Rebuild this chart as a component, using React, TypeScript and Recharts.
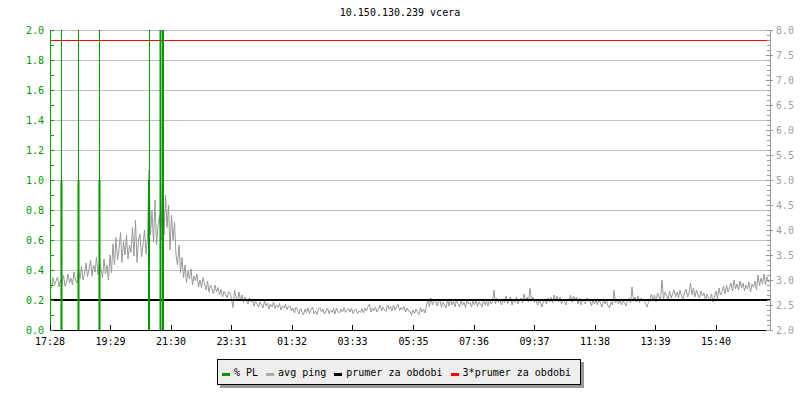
import { ComposedChart, Line, XAxis, YAxis, CartesianGrid, ReferenceLine, Legend } from 'recharts';

const FONT = '"DejaVu Sans Mono", monospace';
const GREEN = '#009900';
const GRAY = '#999999';
const GRID = '#c0c0c0';

const TITLE = '10.150.130.239 vcera';

// avg ping in ms, one sample per STEP minutes starting 17:28
const STEP = 3;
const PING = [
  2.95, 2.84, 3.05, 2.9, 2.98, 3.06, 2.86, 3.0, 2.92, 3.1, 2.88, 2.96, 3.12, 2.94, 3.04, 2.9, 3.16, 3.0, 2.94, 3.2,
  3.02, 3.28, 3.0, 3.12, 3.34, 3.06, 3.22, 3.4, 3.08, 3.3, 3.16, 3.46, 3.1, 3.36, 3.22, 3.05, 3.42, 3.12, 3.3, 3.0,
  3.5, 3.15, 3.72, 3.3, 3.85, 3.4, 3.6, 3.95, 3.35, 3.78, 3.5, 3.9, 3.42, 3.7, 3.55, 4.05, 3.48, 4.2, 3.35, 3.8,
  3.92, 3.46, 3.7, 4.0, 3.52, 3.85, 5.2, 3.9, 4.4, 3.75, 4.6, 3.7, 4.1, 4.3, 3.8, 4.95, 3.9, 4.7, 4.05, 4.5,
  3.6, 4.3, 3.8, 4.15, 3.5, 3.3, 3.7, 3.15, 3.45, 3.05, 3.3, 2.95, 3.18, 3.02, 3.22, 2.9, 3.08, 2.98, 3.12, 2.86,
  3.0, 2.84, 3.05, 2.92, 2.8, 2.98, 2.76, 2.9, 2.82, 2.72, 2.9, 2.76, 2.85, 2.7, 2.82, 2.66, 2.78, 2.72, 2.64, 2.76,
  2.75, 2.62, 2.45, 2.8, 2.66, 2.58, 2.76, 2.6, 2.7, 2.55, 2.66, 2.58, 2.52, 2.64, 2.56, 2.6, 2.48, 2.58, 2.52, 2.46,
  2.56, 2.5, 2.44, 2.58, 2.48, 2.54, 2.42, 2.52, 2.46, 2.56, 2.43, 2.5, 2.45, 2.53, 2.4, 2.48, 2.44, 2.52, 2.41, 2.47,
  2.48, 2.38, 2.44, 2.34, 2.46, 2.4, 2.32, 2.44, 2.36, 2.3, 2.42, 2.35, 2.44, 2.33, 2.4, 2.46, 2.32, 2.38, 2.31, 2.42,
  2.45, 2.36, 2.42, 2.32, 2.38, 2.44, 2.33, 2.4, 2.35, 2.43, 2.32, 2.44, 2.37, 2.34, 2.42, 2.36, 2.45, 2.35, 2.4, 2.43,
  2.36, 2.44, 2.33, 2.4, 2.42, 2.32, 2.38, 2.35, 2.43, 2.34, 2.44, 2.38, 2.47, 2.52, 2.36, 2.44, 2.38, 2.46, 2.36, 2.42,
  2.5, 2.38, 2.46, 2.4, 2.37, 2.5, 2.42, 2.47, 2.38, 2.5, 2.4, 2.48, 2.52, 2.39, 2.45, 2.4, 2.47, 2.36, 2.44, 2.38,
  2.38, 2.3, 2.4, 2.33, 2.42, 2.35, 2.31, 2.44, 2.36, 2.42, 2.34, 2.5, 2.6, 2.46, 2.64, 2.5, 2.58, 2.62, 2.48, 2.56,
  2.6, 2.45, 2.56, 2.5, 2.44, 2.6, 2.48, 2.62, 2.5, 2.58, 2.46, 2.6, 2.52, 2.46, 2.58, 2.5, 2.56, 2.45, 2.6, 2.52,
  2.55, 2.46, 2.58, 2.5, 2.6, 2.47, 2.56, 2.52, 2.46, 2.6, 2.5, 2.58, 2.48, 2.62, 2.52, 2.56, 2.8, 2.52, 2.64, 2.55,
  2.6, 2.5, 2.62, 2.54, 2.68, 2.52, 2.6, 2.66, 2.5, 2.62, 2.55, 2.66, 2.52, 2.6, 2.64, 2.54, 2.72, 2.58, 2.66, 2.56,
  2.84, 2.58, 2.66, 2.55, 2.62, 2.5, 2.6, 2.54, 2.46, 2.58, 2.6, 2.52, 2.64, 2.56, 2.66, 2.54, 2.7, 2.58, 2.68, 2.56,
  2.66, 2.52, 2.62, 2.56, 2.5, 2.62, 2.58, 2.7, 2.55, 2.68, 2.6, 2.66, 2.52, 2.64, 2.5, 2.62, 2.56, 2.52, 2.64, 2.58,
  2.58, 2.48, 2.62, 2.52, 2.6, 2.5, 2.62, 2.54, 2.46, 2.6, 2.52, 2.58, 2.48, 2.44, 2.56, 2.5, 2.8, 2.54, 2.62, 2.52,
  2.6, 2.5, 2.58, 2.54, 2.48, 2.6, 2.64, 2.54, 2.86, 2.58, 2.66, 2.56, 2.68, 2.55, 2.64, 2.58, 2.62, 2.52, 2.46, 2.56,
  2.6, 2.72, 2.58, 2.7, 2.56, 2.74, 2.66, 2.6, 3.0, 2.62, 2.76, 2.7, 2.6, 2.78, 2.64, 2.72, 2.8, 2.66, 2.76, 2.64,
  2.8, 2.68, 2.62, 2.76, 2.82, 2.66, 2.74, 2.94, 2.7, 2.84, 2.66, 2.8, 2.7, 2.64, 2.78, 2.68, 2.74, 2.6, 2.72, 2.64,
  2.6, 2.72, 2.56, 2.66, 2.78, 2.62, 2.84, 2.7, 2.76, 2.88, 2.72, 2.9, 2.76, 2.84, 2.94, 2.78, 3.0, 2.82, 2.92, 2.8,
  2.98, 2.84, 2.94, 2.78, 2.9, 2.82, 2.96, 2.76, 2.92, 2.86, 2.98, 2.8, 3.1, 2.88, 3.04, 2.92, 3.12, 2.9, 3.06, 2.96,
  3.0,
];

// packet loss events (minutes after 17:28) and their % PL
const PL_TIMES = [23, 57, 99, 198, 221, 226];
const PL_VALUES = [1, 1, 1, 1, 2, 2];

const AVG_PING = 2.6;
const TRIPLE_AVG = 3 * AVG_PING;

const X_TICKS = [0, 121, 242, 363, 484, 605, 727, 848, 969, 1090, 1211, 1332];
const X_LABELS = ['17:28', '19:29', '21:30', '23:31', '01:32', '03:33', '05:35', '07:36', '09:37', '11:38', '13:39', '15:40'];

const LEFT_TICKS = Array.from({ length: 21 }, (_, i) => +(i * 0.1).toFixed(1));
const RIGHT_TICKS = Array.from({ length: 61 }, (_, i) => +(2 + i * 0.1).toFixed(1));
const GRID_VALUES = [0, 0.2, 0.4, 0.6, 0.8, 1.0, 1.2, 1.4, 1.6, 1.8, 2.0];

const LEGEND = [
  { label: '% PL', color: GREEN },
  { label: 'avg ping', color: '#aaaaaa' },
  { label: 'prumer za obdobi', color: '#000000' },
  { label: '3*prumer za obdobi', color: '#ff0000' },
];

const pingData = PING.map((v, i) => ({ t: i * STEP, ping: v }));
const plData = PL_TIMES.flatMap((t, i) => [
  { t, pl: 0 },
  { t, pl: PL_VALUES[i] },
  { t, pl: null },
]);

const LeftTick = (props: any) => {
  const { x, y, payload } = props;
  const v = payload.value;
  const major = Math.round(v * 10) % 2 === 0;
  return (
    <g>
      <line x1={x} x2={x + 4} y1={y} y2={y} stroke={GREEN} />
      {major && (
        <text x={x - 6} y={y + 4} textAnchor="end" fill={GREEN} fontSize={10} fontFamily={FONT}>
          {v.toFixed(1)}
        </text>
      )}
    </g>
  );
};

const RightTick = (props: any) => {
  const { x, y, payload } = props;
  const v = payload.value;
  const major = Math.round(v * 10) % 5 === 0;
  return (
    <g>
      <line x1={major ? x - 4 : x - 3} x2={major ? x + 3 : x} y1={y} y2={y} stroke={GRAY} />
      {major && (
        <text x={x + 6} y={y + 4} textAnchor="start" fill="#a0a0a0" fontSize={10} fontFamily={FONT}>
          {v.toFixed(1)}
        </text>
      )}
    </g>
  );
};

const BottomTick = (props: any) => {
  const { x, y, payload, index } = props;
  return (
    <g>
      <line x1={x} x2={x} y1={y} y2={y - 5} stroke="#000" />
      <text x={x} y={y + 15} textAnchor="middle" fill="#000" fontSize={10} fontFamily={FONT}>
        {X_LABELS[index] ?? payload.value}
      </text>
    </g>
  );
};

const LegendBox = () => (
  <div
    style={{
      display: 'flex',
      alignItems: 'center',
      width: 364,
      height: 26,
      boxSizing: 'border-box',
      border: '1px solid #000',
      background: '#eeeeee',
      boxShadow: '3px 3px 0 #999',
      padding: '0 4px',
      fontFamily: FONT,
      fontSize: 10,
      color: '#000',
      whiteSpace: 'nowrap',
    }}
  >
    {LEGEND.map((item) => (
      <span key={item.label} style={{ display: 'flex', alignItems: 'center', marginRight: 8 }}>
        <span style={{ width: 8, height: 3, background: item.color, marginRight: 4, marginTop: 5 }} />
        {item.label}
      </span>
    ))}
  </div>
);

export default function App() {
  return (
    <div style={{ position: 'relative', width: 800, height: 400, background: '#fff' }}>
      <style>{'body{margin:0} svg line{shape-rendering:crispEdges}'}</style>
      <div
        style={{
          position: 'absolute',
          top: 6,
          left: 0,
          width: 800,
          textAlign: 'center',
          fontFamily: FONT,
          fontSize: 10,
          lineHeight: '14px',
          zIndex: 1,
        }}
      >
        {TITLE}
      </div>
      <ComposedChart width={800} height={400} margin={{ top: 30, right: 0, bottom: 50, left: 0 }}>
        <CartesianGrid yAxisId="left" vertical={false} horizontalValues={GRID_VALUES} stroke={GRID} />
        <XAxis
          type="number"
          dataKey="t"
          domain={[0, 1440]}
          ticks={X_TICKS}
          height={20}
          tickSize={0}
          tickMargin={0}
          tickLine={false}
          tick={<BottomTick />}
          axisLine={{ stroke: '#000' }}
          allowDataOverflow
        />
        <YAxis
          yAxisId="left"
          orientation="left"
          domain={[0, 2]}
          ticks={LEFT_TICKS}
          width={50}
          tickSize={0}
          tickMargin={0}
          tickLine={false}
          tick={<LeftTick />}
          axisLine={{ stroke: GREEN }}
          allowDataOverflow
          interval={0}
        />
        <YAxis
          yAxisId="right"
          orientation="right"
          domain={[2, 8]}
          ticks={RIGHT_TICKS}
          width={30}
          tickSize={0}
          tickMargin={0}
          tickLine={false}
          tick={<RightTick />}
          axisLine={{ stroke: GRAY }}
          allowDataOverflow
          interval={0}
        />
        <Line
          yAxisId="right"
          data={pingData}
          dataKey="ping"
          stroke={GRAY}
          strokeWidth={1}
          dot={false}
          isAnimationActive={false}
        />
        <ReferenceLine yAxisId="right" y={AVG_PING} stroke="#000" strokeWidth={2} />
        <ReferenceLine yAxisId="right" y={TRIPLE_AVG} stroke="#ff0000" strokeWidth={1} />
        {PL_TIMES.map((t) => (
          <ReferenceLine key={t} yAxisId="left" x={t} stroke={GREEN} strokeWidth={1} />
        ))}
        <Line
          yAxisId="left"
          data={plData}
          dataKey="pl"
          stroke={GREEN}
          strokeWidth={2}
          dot={false}
          connectNulls={false}
          isAnimationActive={false}
        />
        <Legend
          layout="horizontal"
          verticalAlign="middle"
          align="center"
          width={364}
          height={26}
          wrapperStyle={{ left: 217, top: 359 }}
          content={<LegendBox />}
        />
      </ComposedChart>
    </div>
  );
}
